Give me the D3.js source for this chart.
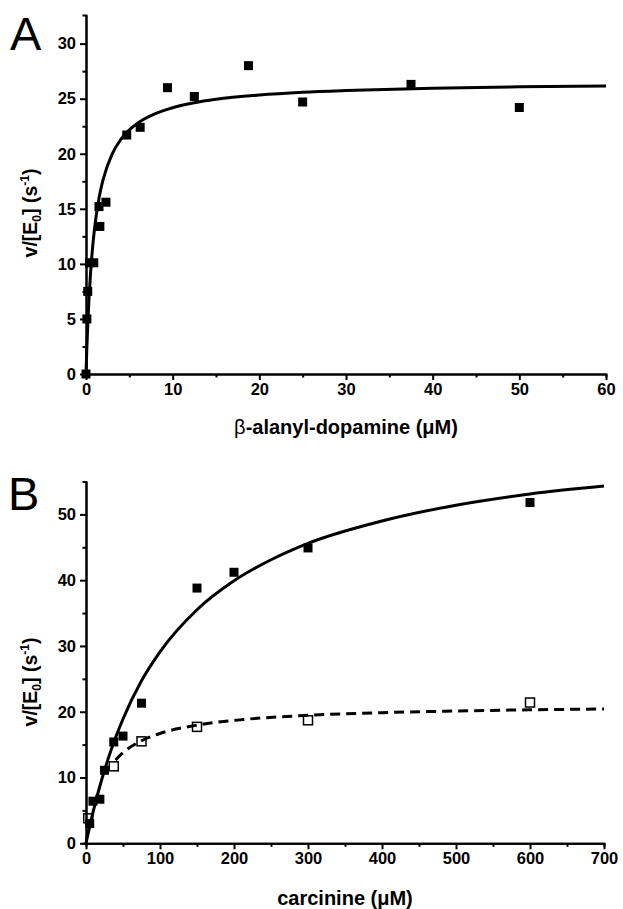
<!DOCTYPE html>
<html>
<head>
<meta charset="utf-8">
<script src="https://cdn.jsdelivr.net/npm/d3@7"></script>
<style>
  body { margin: 0; background: #fff; }
  text { font-family: "Liberation Sans", Arial, sans-serif; }
</style>
</head>
<body>
<div id="container"></div>
<script>
/* DATA */
// panel A: beta-alanyl-dopamine
const aConc = [0, 0.1, 0.2, 0.4, 0.9, 1.6, 1.5, 2.3, 4.7, 6.25, 9.4, 12.5, 18.75, 25, 37.5, 50];
const aRate = [0, 5.0, 7.5, 10.1, 10.1, 13.4, 15.2, 15.6, 21.7, 22.4, 26.0, 25.2, 28.0, 24.7, 26.3, 24.2];
// fitted line
const aFitX = [0, 0.1, 0.25, 0.5, 0.75, 1, 1.5, 2, 3, 4, 5, 6, 8, 10, 12.5, 15, 20, 25, 30, 40, 50, 60];
const aFitY = [0, 2.42, 5.32, 8.87, 11.4, 13.3, 15.96, 17.73, 19.95, 21.28, 22.17, 22.8, 23.64, 24.18, 24.63, 24.94, 25.33, 25.58, 25.74, 25.95, 26.08, 26.16];

// panel B: carcinine
const bConc = [5, 9.4, 18.75, 25, 37.5, 50, 75, 150, 200, 300, 600];
const bRate = [3.0, 6.4, 6.7, 11.1, 15.4, 16.3, 21.3, 38.8, 41.2, 44.9, 51.8];
const bOpenConc = [3, 37.5, 75, 150, 300, 600];
const bOpenRate = [3.8, 11.7, 15.5, 17.7, 18.7, 21.4];
const bFitX = [0, 5, 10, 20, 30, 40, 50, 75, 100, 150, 200, 250, 300, 400, 500, 600, 700];
const bFitY = [0, 2.58, 4.96, 9.2, 12.87, 16.08, 18.9, 24.7, 29.1, 35.5, 39.9, 43.1, 45.6, 49.0, 51.4, 53.1, 54.3];
const bDashX = [40, 50, 75, 100, 150, 200, 300, 400, 500, 600, 700];
const bDashY = [12.66, 13.77, 15.59, 16.69, 17.97, 18.68, 19.45, 19.86, 20.11, 20.29, 20.41];

const aXTicks = [0, 10, 20, 30, 40, 50, 60];
const aYTicks = [0, 5, 10, 15, 20, 25, 30];
const bXTicks = [0, 100, 200, 300, 400, 500, 600, 700];
const bYTicks = [0, 10, 20, 30, 40, 50];

/* SVG */
const width = 623, height = 909;
const svg = d3.select("#container")
  .append("svg")
  .attr("width", width)
  .attr("height", height);

const zip = (xs, ys) => xs.map((x, i) => ({x: x, y: ys[i]}));

function panel(opt) {
  const x = d3.scaleLinear().domain(opt.xDomain).range(opt.xRange);
  const y = d3.scaleLinear().domain(opt.yDomain).range(opt.yRange);
  const g = svg.append("g");

  // minor ticks
  const xMinor = d3.axisBottom(x).tickValues(opt.xMinor).tickSize(3.5).tickFormat("");
  const yMinor = d3.axisLeft(y).tickValues(opt.yMinor).tickSize(3.5).tickFormat("");
  g.append("g").attr("transform", `translate(0,${opt.yRange[0]})`).call(xMinor);
  g.append("g").attr("transform", `translate(${opt.xRange[0]},0)`).call(yMinor);

  const xAxis = d3.axisBottom(x).tickValues(opt.xTicks).tickSize(6).tickPadding(3).tickSizeOuter(0);
  const yAxis = d3.axisLeft(y).tickValues(opt.yTicks).tickSize(6).tickPadding(4).tickSizeOuter(0);
  g.append("g").attr("class", "ax").attr("transform", `translate(0,${opt.yRange[0]})`).call(xAxis);
  g.append("g").attr("class", "ax").attr("transform", `translate(${opt.xRange[0]},0)`).call(yAxis);

  g.selectAll(".domain").attr("stroke", "#000").attr("stroke-width", 2);
  g.selectAll(".tick line").attr("stroke", "#000").attr("stroke-width", 2);
  g.selectAll(".ax text")
    .attr("font-size", 16.5)
    .attr("font-weight", "bold")
    .attr("fill", "#000")
    .style("font-family", "'Liberation Sans', Arial, sans-serif");

  const line = d3.line().x(d => x(d.x)).y(d => y(d.y)).curve(d3.curveMonotoneX);
  opt.lines.forEach(l => {
    g.append("path")
      .datum(l.data)
      .attr("d", line)
      .attr("fill", "none")
      .attr("stroke", "#000")
      .attr("stroke-width", 3)
      .attr("stroke-dasharray", l.dash || null);
  });

  const s = 9;
  opt.points.forEach(p => {
    g.selectAll(null)
      .data(p.data)
      .join("rect")
      .attr("x", d => x(d.x) - s / 2)
      .attr("y", d => y(d.y) - s / 2)
      .attr("width", s)
      .attr("height", s)
      .attr("fill", p.open ? "none" : "#000")
      .attr("stroke", "#000")
      .attr("stroke-width", p.open ? 1.5 : 0);
  });

  // panel letter
  g.append("text")
    .attr("x", opt.letterPos[0]).attr("y", opt.letterPos[1])
    .attr("font-size", 47)
    .text(opt.letter);

  // y title
  const yt = g.append("text")
    .attr("transform", `translate(37,${opt.yTitleY}) rotate(-90)`)
    .attr("text-anchor", "middle")
    .attr("font-size", 19.5)
    .attr("font-weight", "bold");
  yt.append("tspan").text("v/[E");
  yt.append("tspan").attr("font-size", 12).attr("dy", 4).text("0");
  yt.append("tspan").attr("dy", -4).text("] (s");
  yt.append("tspan").attr("font-size", 12).attr("dy", -8).text("-1");
  yt.append("tspan").attr("dy", 8).text(")");

  // x title
  const xt = g.append("text")
    .attr("x", (opt.xRange[0] + opt.xRange[1]) / 2)
    .attr("y", opt.xTitleY)
    .attr("text-anchor", "middle")
    .attr("font-size", 20)
    .attr("font-weight", "bold");
  opt.xTitle.forEach(t => {
    xt.append("tspan").attr("font-weight", t.w || "bold").text(t.s);
  });
}

panel({
  xDomain: [0, 60], xRange: [86, 606],
  yDomain: [0, 32.6], yRange: [374, 15],
  xTicks: aXTicks, yTicks: aYTicks,
  xMinor: [5, 15, 25, 35, 45, 55],
  yMinor: [2.5, 7.5, 12.5, 17.5, 22.5, 27.5],
  lines: [{data: zip(aFitX, aFitY)}],
  points: [{data: zip(aConc, aRate)}],
  letter: "A", letterPos: [10, 50],
  yTitleY: 213, xTitleY: 434,
  xTitle: [{s: "β", w: "normal"}, {s: "-alanyl-dopamine (μM)"}]
});

panel({
  xDomain: [0, 700], xRange: [86, 604],
  yDomain: [0, 55], yRange: [843.3, 481.5],
  xTicks: bXTicks, yTicks: bYTicks,
  xMinor: [50, 150, 250, 350, 450, 550, 650],
  yMinor: [5, 15, 25, 35, 45],
  lines: [{data: zip(bFitX, bFitY)}, {data: zip(bDashX, bDashY), dash: "10,6"}],
  points: [{data: zip(bConc, bRate)}, {data: zip(bOpenConc, bOpenRate), open: true}],
  letter: "B", letterPos: [8, 510],
  yTitleY: 682, xTitleY: 905,
  xTitle: [{s: "carcinine (μM)"}]
});
</script>
</body>
</html>
